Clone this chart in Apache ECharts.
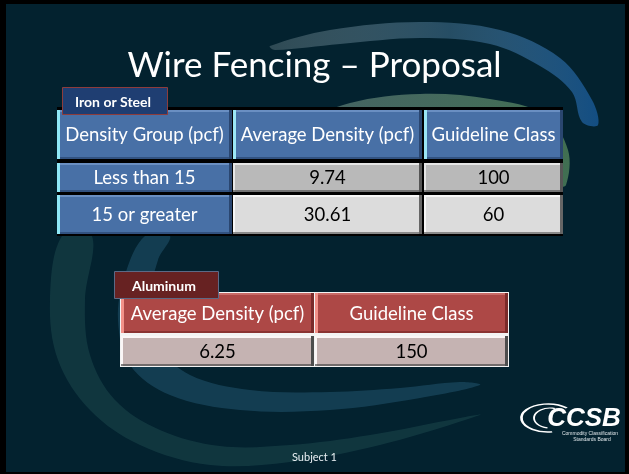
<!DOCTYPE html>
<html>
<head>
<meta charset="utf-8">
<script src="https://cdn.jsdelivr.net/npm/echarts@6/dist/echarts.min.js"></script>
<style>
  html, body { margin: 0; padding: 0; background: #000; }
  #slide { width: 629px; height: 474px; }
</style>
</head>
<body>
<div id="slide"></div>
<script>
// table contents
const ironHeaders = ['Density Group (pcf)', 'Average Density (pcf)', 'Guideline Class'];
const ironGroups = ['Less than 15', '15 or greater'];
const ironAvgDensity = [9.74, 30.61];
const ironClass = [100, 60];

const aluHeaders = ['Average Density (pcf)', 'Guideline Class'];
const aluAvgDensity = [6.25];
const aluClass = [150];

// cell layout in axis units (column / row spans)
const ironCols = [[0, 175], [176, 365], [367, 506]];
const ironRows = [[3, 52], [56, 85], [88, 127]];
const aluCols = [[1, 194], [195, 388]];
const aluRows = [[1, 41], [44, 74]];

const ironStyle = {
  head:  { fill: '#4870a6', hi: '#6a8fc2', lo: '#2a4670', text: '#fff', stripe: '#9be6f5' },
  group: { fill: '#4870a6', hi: '#6a8fc2', lo: '#2a4670', text: '#fff' },
  dark:  { fill: '#b9b9b9', hi: '#e6e6e6', lo: '#555', text: '#000' },
  light: { fill: '#dcdcdc', hi: '#f7f7f7', lo: '#666', text: '#000' }
};
const aluStyle = {
  head: { fill: '#ad4846', hi: '#c86a66', lo: '#7a2b2a', text: '#fff', stripe: '#f29189' },
  data: { fill: '#c5b3b2', hi: '#fbf6f6', lo: '#4d4d4d', text: '#000' }
};

let ironCells = [];
ironHeaders.forEach(function (h, i) {
  ironCells.push({ col: i, row: 0, text: h, kind: 'head' });
});
ironGroups.forEach(function (g, r) {
  let k = r % 2 === 0 ? 'dark' : 'light';
  ironCells.push({ col: 0, row: r + 1, text: g, kind: 'group' });
  ironCells.push({ col: 1, row: r + 1, text: ironAvgDensity[r].toFixed(2), kind: k });
  ironCells.push({ col: 2, row: r + 1, text: String(ironClass[r]), kind: k });
});

let aluCells = [];
aluHeaders.forEach(function (h, i) {
  aluCells.push({ col: i, row: 0, text: h, kind: 'head' });
});
aluAvgDensity.forEach(function (v, r) {
  aluCells.push({ col: 0, row: r + 1, text: v.toFixed(2), kind: 'data' });
  aluCells.push({ col: 1, row: r + 1, text: String(aluClass[r]), kind: 'data' });
});

function cellRenderer(cells, cols, rows, styles, leftStripe) {
  return function (params, api) {
    const c = cells[params.dataIndex];
    const col = api.value(0), row = api.value(1);
    const p0 = api.coord([cols[col][0], rows[row][0]]);
    const p1 = api.coord([cols[col][1], rows[row][1]]);
    const x = p0[0], y = p0[1], w = p1[0] - p0[0], h = p1[1] - p0[1];
    const s = styles[c.kind];
    let kids = [
      { type: 'rect', shape: { x: x, y: y, width: w, height: h }, style: { fill: s.fill } },
      { type: 'rect', shape: { x: x, y: y, width: w, height: 2 }, style: { fill: s.hi } },
      { type: 'rect', shape: { x: x, y: y, width: 2, height: h }, style: { fill: s.hi } },
      { type: 'rect', shape: { x: x + w - 3, y: y, width: 3, height: h }, style: { fill: s.lo } },
      { type: 'rect', shape: { x: x, y: y + h - 2, width: w, height: 2 }, style: { fill: s.lo, opacity: 0.7 } }
    ];
    if (s.stripe || (leftStripe && col === 0)) {
      kids.push({ type: 'rect', shape: { x: x, y: y, width: 3, height: h },
        style: { fill: leftStripe && col === 0 ? leftStripe : s.stripe } });
    }
    kids.push({
      type: 'text',
      style: {
        text: c.text, x: x + w / 2, y: y + h / 2 + 1,
        align: 'center', verticalAlign: 'middle',
        fill: s.text, fontSize: 18.5, fontFamily: 'Lato'
      }
    });
    return { type: 'group', children: kids };
  };
}

// background swooshes (decoration)
const swooshes = [
  { // large faint crescent, lower left
    pts: [[62, 236], [50, 300], [58, 360], [90, 410], [140, 445], [210, 465], [290, 462], [380, 445], [480, 415],
          [460, 418], [370, 435], [290, 445], [220, 446], [160, 430], [115, 400], [90, 355], [85, 300], [92, 236]],
    fill: 'rgba(45,95,95,0.32)'
  },
  { // inner blue band
    pts: [[145, 236], [125, 275], [118, 320], [130, 365], [170, 395], [240, 410], [330, 410], [420, 398], [480, 385],
          [460, 382], [400, 388], [330, 392], [250, 390], [190, 375], [158, 345], [150, 300], [158, 260], [170, 236]],
    fill: 'rgba(40,95,125,0.45)'
  },
  { // green arc behind the first table
    pts: [[300, 125], [350, 103], [420, 94], [490, 99], [545, 115], [568, 150], [566, 185],
          [556, 185], [553, 145], [520, 118], [460, 110], [400, 110], [340, 118], [310, 130]],
    fill: new echarts.graphic.LinearGradient(0, 0, 1, 0, [
      { offset: 0, color: 'rgba(120,150,140,0.55)' },
      { offset: 1, color: 'rgba(80,130,90,0.8)' }
    ])
  },
  { // blue arc, top
    pts: [[270, 46], [330, 30], [420, 22], [500, 30], [560, 58], [592, 100], [598, 125],
          [582, 122], [572, 92], [540, 66], [490, 44], [420, 38], [340, 44], [275, 50]],
    fill: new echarts.graphic.LinearGradient(0, 0, 1, 0, [
      { offset: 0, color: 'rgba(220,235,235,0.2)' },
      { offset: 0.55, color: 'rgba(80,130,165,0.45)' },
      { offset: 1, color: 'rgba(20,80,135,0.95)' }
    ])
  }
];

let graphics = [
  { type: 'rect', z: -20, shape: { x: 6, y: 4, width: 619, height: 468 }, style: { fill: '#03222f' } }
];
swooshes.forEach(function (sw) {
  graphics.push({ type: 'polygon', z: -10, shape: { points: sw.pts, smooth: 0.35 }, style: { fill: sw.fill } });
});
// CCSB logo
graphics.push({
  type: 'group', z: 20, children: [
    { type: 'arc', shape: { cx: 548, cy: 418, r: 14, startAngle: Math.PI * 0.45, endAngle: Math.PI * 1.75 },
      scaleX: 1.9, originX: 548, originY: 418, style: { stroke: '#fff', lineWidth: 1.4, fill: null } },
    { type: 'arc', shape: { cx: 550, cy: 418, r: 10, startAngle: Math.PI * 0.55, endAngle: Math.PI * 1.6 },
      scaleX: 1.6, originX: 550, originY: 418, style: { stroke: '#fff', lineWidth: 1.2, fill: null } },
    { type: 'text', style: { text: 'CCSB', x: 584, y: 419, align: 'center', verticalAlign: 'middle',
      fill: '#fff', fontSize: 26, fontWeight: 'bold', fontStyle: 'italic', fontFamily: 'Liberation Sans Narrow, Liberation Sans' } },
    { type: 'text', style: { text: 'Commodity Classification', x: 590, y: 434, align: 'center', verticalAlign: 'middle',
      fill: '#dfe6ea', fontSize: 5, fontFamily: 'Liberation Sans' } },
    { type: 'text', style: { text: 'Standards Board', x: 592, y: 440, align: 'center', verticalAlign: 'middle',
      fill: '#dfe6ea', fontSize: 5, fontFamily: 'Liberation Sans' } }
  ]
});

const chart = echarts.init(document.getElementById('slide'));
chart.setOption({
  backgroundColor: '#000',
  animation: false,
  title: [
    { text: 'Wire Fencing – Proposal', left: 'center', top: 43,
      textStyle: { color: '#fff', fontSize: 35, fontWeight: 'normal', fontFamily: 'Lato' } },
    { text: 'Iron or Steel', left: 62, top: 87, backgroundColor: '#1f3e72', borderColor: '#8e3c3c', borderWidth: 1,
      padding: [8, 17, 6, 13],
      textStyle: { color: '#fff', fontSize: 14, fontWeight: 'bold', fontFamily: 'Lato' } },
    { text: 'Aluminum', left: 114, top: 271, backgroundColor: '#672222', borderColor: '#5c6a86', borderWidth: 1,
      padding: [8, 23, 6, 18],
      textStyle: { color: '#fff', fontSize: 14, fontWeight: 'bold', fontFamily: 'Lato' } },
    { text: 'Subject 1', left: 'center', top: 447,
      textStyle: { color: '#e8eef2', fontSize: 11, fontWeight: 'normal', fontFamily: 'Lato' } }
  ],
  grid: [
    { left: 57, top: 107, width: 506, height: 129, show: true, backgroundColor: '#000', borderWidth: 0 },
    { left: 120, top: 292, width: 389, height: 75, show: true, backgroundColor: '#f3f3f3', borderWidth: 0 }
  ],
  xAxis: [
    { gridIndex: 0, type: 'value', min: 0, max: 506, show: false },
    { gridIndex: 1, type: 'value', min: 0, max: 389, show: false }
  ],
  yAxis: [
    { gridIndex: 0, type: 'value', min: 0, max: 129, inverse: true, show: false },
    { gridIndex: 1, type: 'value', min: 0, max: 75, inverse: true, show: false }
  ],
  graphic: graphics,
  series: [
    { type: 'custom', name: 'Iron or Steel', xAxisIndex: 0, yAxisIndex: 0,
      data: ironCells.map(function (c) { return [c.col, c.row]; }),
      renderItem: cellRenderer(ironCells, ironCols, ironRows, ironStyle, '#8fe8f7') },
    { type: 'custom', name: 'Aluminum', xAxisIndex: 1, yAxisIndex: 1,
      data: aluCells.map(function (c) { return [c.col, c.row]; }),
      renderItem: cellRenderer(aluCells, aluCols, aluRows, aluStyle, null) }
  ]
});
</script>
</body>
</html>
